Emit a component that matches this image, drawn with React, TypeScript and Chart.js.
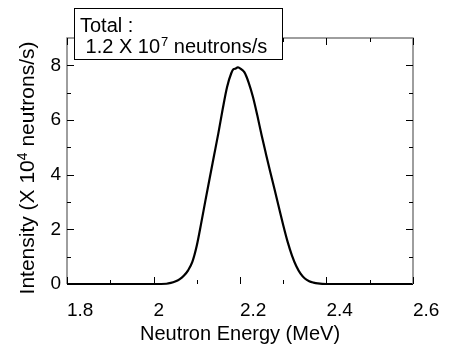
import React, { useEffect, useRef } from "react";
import { Chart, registerables } from "chart.js";

Chart.register(...registerables);

// Data
const energies = [
  1.8, 2.0, 2.03, 2.04, 2.05, 2.06, 2.07, 2.08, 2.09, 2.1, 2.11, 2.12, 2.13, 2.14, 2.15,
  2.16, 2.17, 2.18, 2.185, 2.19, 2.195, 2.2, 2.21, 2.22, 2.23, 2.24, 2.25, 2.26, 2.27,
  2.28, 2.29, 2.3, 2.31, 2.32, 2.33, 2.34, 2.35, 2.36, 2.37, 2.38, 2.4, 2.6,
];
const intensities = [
  0, 0, 0.01, 0.04, 0.09, 0.17, 0.3, 0.5, 0.82, 1.4, 2.2, 3.05, 3.88, 4.7, 5.52,
  6.4, 7.2, 7.72, 7.86, 7.88, 7.93, 7.89, 7.75, 7.37, 6.84, 6.17, 5.44, 4.76, 4.1,
  3.46, 2.8, 2.15, 1.55, 1.05, 0.66, 0.38, 0.2, 0.1, 0.05, 0.02, 0, 0,
];
const xMajorTicks = [1.8, 2.0, 2.2, 2.4, 2.6];
const xMinorTicks = [1.9, 2.1, 2.3, 2.5];
const yMajorTicks = [0, 2, 4, 6, 8];
const yMinorTicks = [1, 3, 5, 7];

const xTitle = "Neutron Energy (MeV)";
const yTitleParts = ["Intensity (X 10", "4", " neutrons/s)"];
const noteLine1 = "Total :";
const noteLine2Parts = [" 1.2 X 10", "7", " neutrons/s"];

const FONT = "'Liberation Sans', Arial, sans-serif";

const decorPlugin = {
  id: "decor",
  afterDatasetsDraw(chart: any) {
    const ctx = chart.ctx;
    const { left, right, top, bottom } = chart.chartArea;
    const xs = chart.scales.x;
    const ys = chart.scales.y;
    ctx.save();
    // frame
    ctx.strokeStyle = "#7f7f7f";
    ctx.lineWidth = 1.5;
    ctx.beginPath();
    ctx.moveTo(left, bottom);
    ctx.lineTo(left, top);
    ctx.lineTo(right, top);
    ctx.lineTo(right, bottom);
    ctx.stroke();
    // ticks
    ctx.strokeStyle = "#000";
    ctx.lineWidth = 1;
    const drawX = (vals: number[], len: number) => {
      vals.forEach((v) => {
        const px = Math.round(xs.getPixelForValue(v)) + 0.5;
        ctx.beginPath();
        ctx.moveTo(px, bottom);
        ctx.lineTo(px, bottom - len);
        ctx.moveTo(px, top);
        ctx.lineTo(px, top + len);
        ctx.stroke();
      });
    };
    const drawY = (vals: number[], len: number) => {
      vals.forEach((v) => {
        const py = Math.round(ys.getPixelForValue(v)) + 0.5;
        ctx.beginPath();
        ctx.moveTo(left, py);
        ctx.lineTo(left + len, py);
        ctx.moveTo(right, py);
        ctx.lineTo(right - len, py);
        ctx.stroke();
      });
    };
    drawX(xMajorTicks, 7);
    drawX(xMinorTicks, 4);
    drawY(yMajorTicks, 7);
    drawY(yMinorTicks, 4);
    ctx.restore();
  },
  afterDraw(chart: any) {
    const ctx = chart.ctx;
    const { left, right } = chart.chartArea;
    ctx.save();
    ctx.fillStyle = "#000";
    ctx.textBaseline = "alphabetic";
    // x title
    ctx.font = `20px ${FONT}`;
    ctx.textAlign = "center";
    ctx.fillText(xTitle, (left + right) / 2, 340);
    // y title with superscript
    ctx.textAlign = "left";
    const bigFont = `21px ${FONT}`;
    const smallFont = `14px ${FONT}`;
    ctx.font = bigFont;
    const w0 = ctx.measureText(yTitleParts[0]).width;
    const w2 = ctx.measureText(yTitleParts[2]).width;
    ctx.font = smallFont;
    const w1 = ctx.measureText(yTitleParts[1]).width;
    const total = w0 + w1 + w2;
    ctx.translate(34, 168);
    ctx.rotate(-Math.PI / 2);
    let x = -total / 2;
    ctx.font = bigFont;
    ctx.fillText(yTitleParts[0], x, 0);
    x += w0;
    ctx.font = smallFont;
    ctx.fillText(yTitleParts[1], x, -7);
    x += w1;
    ctx.font = bigFont;
    ctx.fillText(yTitleParts[2], x, 0);
    ctx.setTransform(1, 0, 0, 1, 0, 0);
    // annotation box
    ctx.fillStyle = "#fff";
    ctx.fillRect(74, 8, 208, 51);
    ctx.strokeStyle = "#000";
    ctx.lineWidth = 1;
    ctx.strokeRect(74.5, 8.5, 208, 51);
    ctx.fillStyle = "#000";
    ctx.font = `20px ${FONT}`;
    ctx.fillText(noteLine1, 80, 32);
    let nx = 80;
    ctx.fillText(noteLine2Parts[0], nx, 53);
    nx += ctx.measureText(noteLine2Parts[0]).width;
    ctx.font = `13px ${FONT}`;
    ctx.fillText(noteLine2Parts[1], nx + 1, 46);
    nx += ctx.measureText(noteLine2Parts[1]).width + 1;
    ctx.font = `20px ${FONT}`;
    ctx.fillText(noteLine2Parts[2], nx, 53);
    ctx.restore();
  },
};

export default function App() {
  const ref = useRef<HTMLCanvasElement>(null);
  useEffect(() => {
    if (!ref.current) return;
    const chart = new Chart(ref.current, {
      type: "line",
      data: {
        datasets: [
          {
            data: energies.map((e, i) => ({ x: e, y: intensities[i] })),
            borderColor: "#000",
            borderWidth: 2.2,
            pointRadius: 0,
            cubicInterpolationMode: "monotone",
            fill: false,
            clip: false as any,
          },
        ],
      },
      options: {
        responsive: false,
        animation: false,
        devicePixelRatio: 1,
        layout: { padding: { left: 0, right: 37, top: 38, bottom: 0 } },
        plugins: { legend: { display: false }, tooltip: { enabled: false } },
        scales: {
          x: {
            type: "linear",
            min: 1.8,
            max: 2.6,
            grid: { display: false },
            border: { display: false },
            afterBuildTicks: (s: any) => {
              s.ticks = xMajorTicks.map((v) => ({ value: v }));
            },
            afterFit: (s: any) => {
              s.height = 61;
            },
            ticks: {
              align: "start",
              padding: 7,
              color: "#000",
              font: { family: FONT, size: 19 },
              maxRotation: 0,
              autoSkip: false,
              callback: (v: any) => String(Number(v)),
            },
          },
          y: {
            type: "linear",
            min: 0,
            max: 9,
            grid: { display: false },
            border: { display: false },
            afterBuildTicks: (s: any) => {
              s.ticks = yMajorTicks.map((v) => ({ value: v }));
            },
            afterFit: (s: any) => {
              s.width = 67;
            },
            ticks: {
              padding: -2,
              color: "#000",
              font: { family: FONT, size: 19 },
              callback: (v: any) => String(Number(v)),
            },
          },
        },
      },
      plugins: [decorPlugin],
    });
    return () => chart.destroy();
  }, []);
  return (
    <div style={{ position: "fixed", left: 0, top: 0, width: 450, height: 345, background: "#fff" }}>
      <canvas ref={ref} width={450} height={345} />
    </div>
  );
}
